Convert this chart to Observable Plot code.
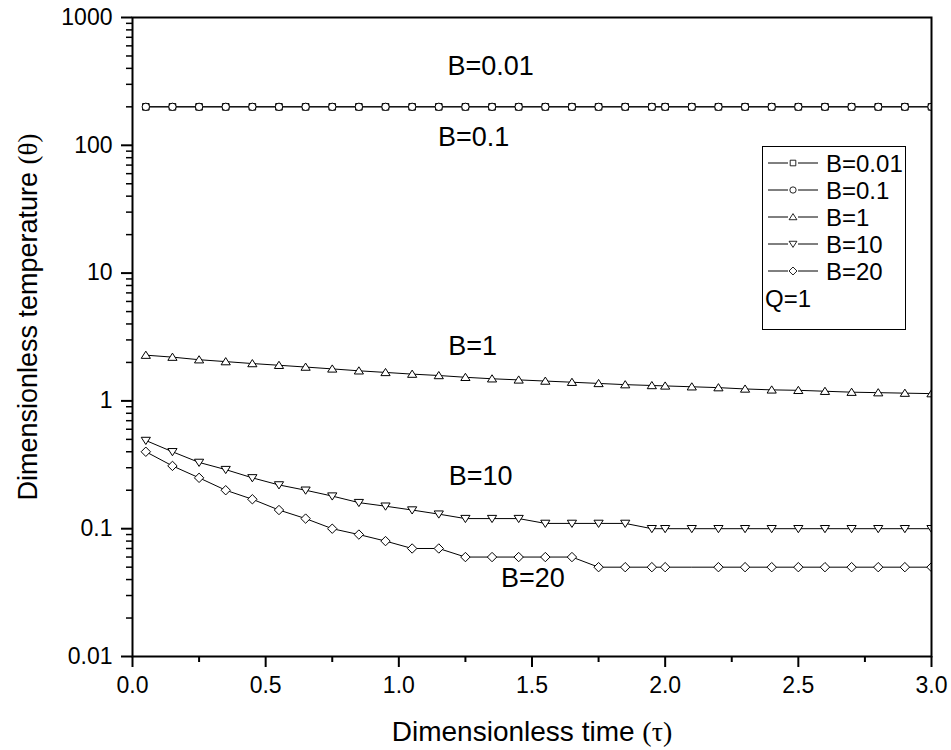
<!DOCTYPE html>
<html><head><meta charset="utf-8">
<script src="https://cdn.jsdelivr.net/npm/d3@7"></script>
<script src="https://cdn.jsdelivr.net/npm/@observablehq/plot@0.6"></script>
<style>
body{margin:0;background:#fff}
#chart{position:relative;width:951px;height:750px}
</style>
</head><body><div id="chart"></div>
<script>
// ---- data ----
const tau = [0.05,0.15,0.25,0.35,0.45,0.55,0.65,0.75,0.85,0.95,1.05,1.15,1.25,1.35,1.45,1.55,1.65,1.75,1.85,1.95,2.0,2.1,2.2,2.3,2.4,2.5,2.6,2.7,2.8,2.9,3.0];
const b001 = [200,200,200,200,200,200,200,200,200,200,200,200,200,200,200,200,200,200,200,200,200,200,200,200,200,200,200,200,200,200,200];
const b01  = [200,200,200,200,200,200,200,200,200,200,200,200,200,200,200,200,200,200,200,200,200,200,200,200,200,200,200,200,200,200,200];
const b1   = [2.28,2.2,2.1,2.03,1.96,1.9,1.84,1.78,1.72,1.67,1.62,1.58,1.53,1.49,1.46,1.43,1.4,1.37,1.34,1.32,1.31,1.29,1.27,1.24,1.22,1.21,1.19,1.17,1.16,1.15,1.14];
const b10  = [0.49,0.4,0.33,0.29,0.25,0.22,0.2,0.18,0.16,0.15,0.14,0.13,0.12,0.12,0.12,0.11,0.11,0.11,0.11,0.1,0.1,0.1,0.1,0.1,0.1,0.1,0.1,0.1,0.1,0.1,0.1];
const b20  = [0.4,0.31,0.25,0.2,0.17,0.14,0.12,0.1,0.09,0.08,0.07,0.07,0.06,0.06,0.06,0.06,0.06,0.05,0.05,0.05,0.05,0.05,0.05,0.05,0.05,0.05,0.05,0.05,0.05,0.05,0.05];
const seriesNames = ["B=0.01","B=0.1","B=1","B=10","B=20"];
const seriesValues = [b001, b01, b1, b10, b20];
const curveLabels = ["B=0.01","B=0.1","B=1","B=10","B=20"];
const curveLabelTau = [1.345, 1.281, 1.277, 1.307, 1.503];
const curveLabelValue = [414, 115, 2.67, 0.256, 0.0407];
const xMajor = [0,0.5,1.0,1.5,2.0,2.5,3.0];
const xMinor = [0.25,0.75,1.25,1.75,2.25,2.75];
const yMajor = [0.01,0.1,1,10,100,1000];
const yMajorLabels = ["0.01","0.1","1","10","100","1000"];
const noteText = "Q=1";

// ---- symbols ----
const symSquare = {draw(c){const s=3.3;c.moveTo(-s,-s);c.lineTo(s,-s);c.lineTo(s,s);c.lineTo(-s,s);c.closePath();}};
const symCircle = {draw(c){const r=3.7;c.moveTo(r,0);c.arc(0,0,r,0,2*Math.PI);c.closePath();}};
const symTriUp = {draw(c){c.moveTo(0,-4);c.lineTo(4.6,3.2);c.lineTo(-4.6,3.2);c.closePath();}};
const symTriDown = {draw(c){c.moveTo(0,4);c.lineTo(4.6,-3.2);c.lineTo(-4.6,-3.2);c.closePath();}};
const symDiamond = {draw(c){const s=4.7;c.moveTo(0,-s);c.lineTo(s,0);c.lineTo(0,s);c.lineTo(-s,0);c.closePath();}};
const symbols = [symSquare, symCircle, symTriUp, symTriDown, symDiamond];

const rows = seriesNames.map((name, k) => tau.map((t, i) => ({tau: t, value: seriesValues[k][i], series: name})));
const labelRows = curveLabels.map((t, i) => ({text: t, tau: curveLabelTau[i], value: curveLabelValue[i]}));

const font = "'Liberation Sans', Arial, sans-serif";
const serif = "'Liberation Serif', 'Times New Roman', serif";

const marks = [];
rows.forEach((r) => {
  marks.push(Plot.line(r, {x: "tau", y: "value", stroke: "black", strokeWidth: 1, clip: true}));
});
rows.forEach((r, k) => {
  const data = k === 4 ? r.filter(d => d.tau !== 2.1) : r;
  marks.push(Plot.dot(data, {x: "tau", y: "value", symbol: symbols[k], fill: "white", stroke: "black", strokeWidth: 1, clip: true}));
});
marks.push(Plot.text(labelRows, {x: "tau", y: "value", text: "text", fontSize: 27, fill: "black"}));
marks.push(Plot.axisX({ticks: xMajor, tickSize: 11, tickPadding: 9, tickFormat: d3.format(".1f"), strokeWidth: 2, fontSize: 23, label: null}));
marks.push(Plot.axisX({ticks: xMinor, tickSize: 6, tickFormat: () => "", strokeWidth: 2, label: null}));
marks.push(Plot.axisY({ticks: yMajor, tickSize: 11, tickPadding: 9, tickFormat: (d) => yMajorLabels[yMajor.indexOf(d)], strokeWidth: 2, fontSize: 23, label: null}));
const yMinor = [];
for (let k = 0; k < yMajor.length - 1; k++) for (let m = 2; m <= 9; m++) yMinor.push(+(yMajor[k] * m).toPrecision(3));
marks.push(Plot.axisY({ticks: yMinor, tickSize: 6, tickFormat: () => "", strokeWidth: 1.5, label: null}));
marks.push(Plot.frame({stroke: "black", strokeWidth: 2}));

const chart = Plot.plot({
  width: 951, height: 750,
  marginLeft: 132, marginRight: 20, marginTop: 17, marginBottom: 94,
  style: {fontFamily: font, color: "black", background: "white", fontSize: "22px"},
  x: {domain: [0, 3]},
  y: {type: "log", domain: [0.01, 1000]},
  marks
});
document.getElementById("chart").appendChild(chart);

// ---- axis titles & legend ----
const svg = d3.select(chart);
const xt = svg.append("text").attr("x", 532).attr("y", 741).attr("text-anchor", "middle")
  .attr("font-family", font).attr("font-size", 28).attr("fill", "black");
xt.append("tspan").text("Dimensionless time ");
xt.append("tspan").attr("font-family", serif).text("(τ)");
const yt = svg.append("text").attr("transform", "translate(37,317) rotate(-90)").attr("text-anchor", "middle")
  .attr("font-family", font).attr("font-size", 27).attr("fill", "black");
yt.append("tspan").text("Dimensionless temperature ");
yt.append("tspan").attr("font-family", serif).text("(θ)");

const lg = svg.append("g").attr("text-anchor", "start");
lg.append("rect").attr("x", 762.5).attr("y", 146.5).attr("width", 143).attr("height", 183)
  .attr("fill", "white").attr("stroke", "black").attr("stroke-width", 1);
seriesNames.forEach((name, k) => {
  const y = 163 + k * 27;
  lg.append("line").attr("x1", 768).attr("x2", 788).attr("y1", y).attr("y2", y).attr("stroke", "black");
  lg.append("line").attr("x1", 798).attr("x2", 818).attr("y1", y).attr("y2", y).attr("stroke", "black");
  lg.append("path").attr("transform", `translate(793,${y}) scale(0.85)`).attr("d", d3.symbol(symbols[k])()).attr("fill", "white").attr("stroke", "black");
  lg.append("text").attr("x", 826).attr("y", y).attr("dy", "0.36em").attr("text-anchor", "start").attr("font-family", font).attr("font-size", 24).attr("fill", "black").text(name);
});
lg.append("text").attr("x", 765).attr("y", 298).attr("dy", "0.36em").attr("text-anchor", "start").attr("font-family", font).attr("font-size", 24).attr("fill", "black").text(noteText);
</script>
</body></html>
